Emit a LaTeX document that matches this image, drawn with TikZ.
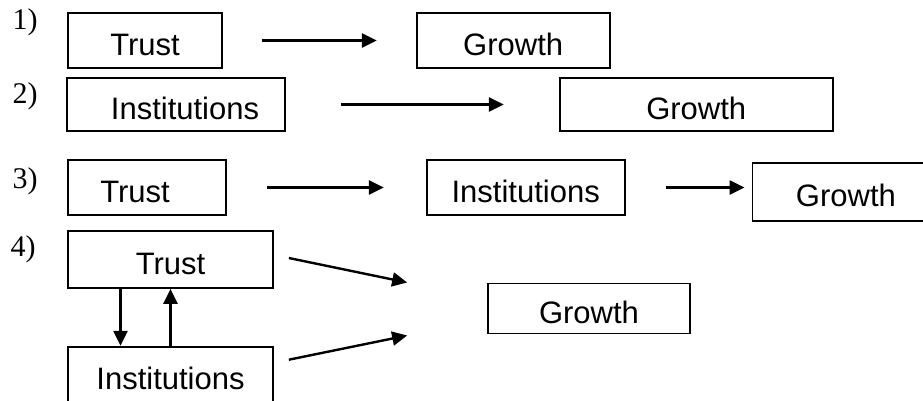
\documentclass[tikz,border=0pt]{standalone}
\usepackage{fontspec}
\setmainfont{Liberation Sans}
\newfontfamily\numfont{Liberation Serif}
\usetikzlibrary{positioning,arrows.meta}

\begin{document}
\begin{tikzpicture}[x=1pt, y=-1pt, >={Triangle[length=15pt,width=14pt]},
	box/.style={draw, line width=1.7pt, inner sep=0pt, text height=29pt, text depth=0pt, font=\fontsize{31}{36}\selectfont},
	num/.style={font=\numfont\fontsize{30}{34}\selectfont},
	link/.style={->, line width=2.4pt}]
		\clip (0,0) rectangle (923,400);
		\node (n1) [num] at (25,22.5) {1)};
		\node (n2) [num] at (25,96) {2)};
		\node (n3) [num] at (25,181) {3)};
		\node (n4) [num] at (23,249) {4)};
		\node (t1) [box, minimum width=154pt, minimum height=55pt] at (145,40.5) {Trust};
		\node (g1) [box, minimum width=193pt, minimum height=55pt, right=193pt of t1] {Growth};
		\node (i2) [box, minimum width=218pt, minimum height=53pt] at (176,104.5) {\hspace*{18pt}Institutions};
		\node (g2) [box, minimum width=273pt, minimum height=53pt, right=273pt of i2] {Growth};
		\node (t3) [box, minimum width=158pt, minimum height=55pt] at (147,187.5) {Trust\hspace*{24pt}};
		\node (i3) [box, minimum width=198pt, minimum height=55pt, right=199pt of t3] {Institutions};
		\node (g3) [box, minimum width=187pt, minimum height=58pt, right=126pt of i3, yshift=-4.5pt] {Growth};
		\node (t4) [box, minimum width=205pt, minimum height=57pt] at (170.5,259.5) {Trust};
		\node (i4) [box, minimum width=205pt, minimum height=57pt, below=57pt of t4] {Institutions};
		\node (g4) [box, minimum width=202pt, minimum height=50pt] at (589,308.5) {Growth};
		\draw [link, shorten <=39pt, shorten >=39pt] (t1) -- (g1);
		\draw [link, shorten <=55pt, shorten >=55pt] (i2) -- (g2);
		\draw [link, shorten <=40pt, shorten >=42pt] (t3) -- (i3);
		\draw [link, shorten <=40pt, shorten >=7pt] (i3.east) -- (i3.east -| g3.west);
		\draw [link] ([shift={(-50,0)}]t4.south) -- ([shift={(-50,0)}]i4.north);
		\draw [link] (i4.north) -- (t4.south);
		\draw [link] ([shift={(15,-1.5)}]t4.east) -- ([shift={(-80,-26)}]g4.west);
		\draw [link] ([shift={(15,-15.5)}]i4.east) -- ([shift={(-80,27)}]g4.west);
\end{tikzpicture}
\end{document}
